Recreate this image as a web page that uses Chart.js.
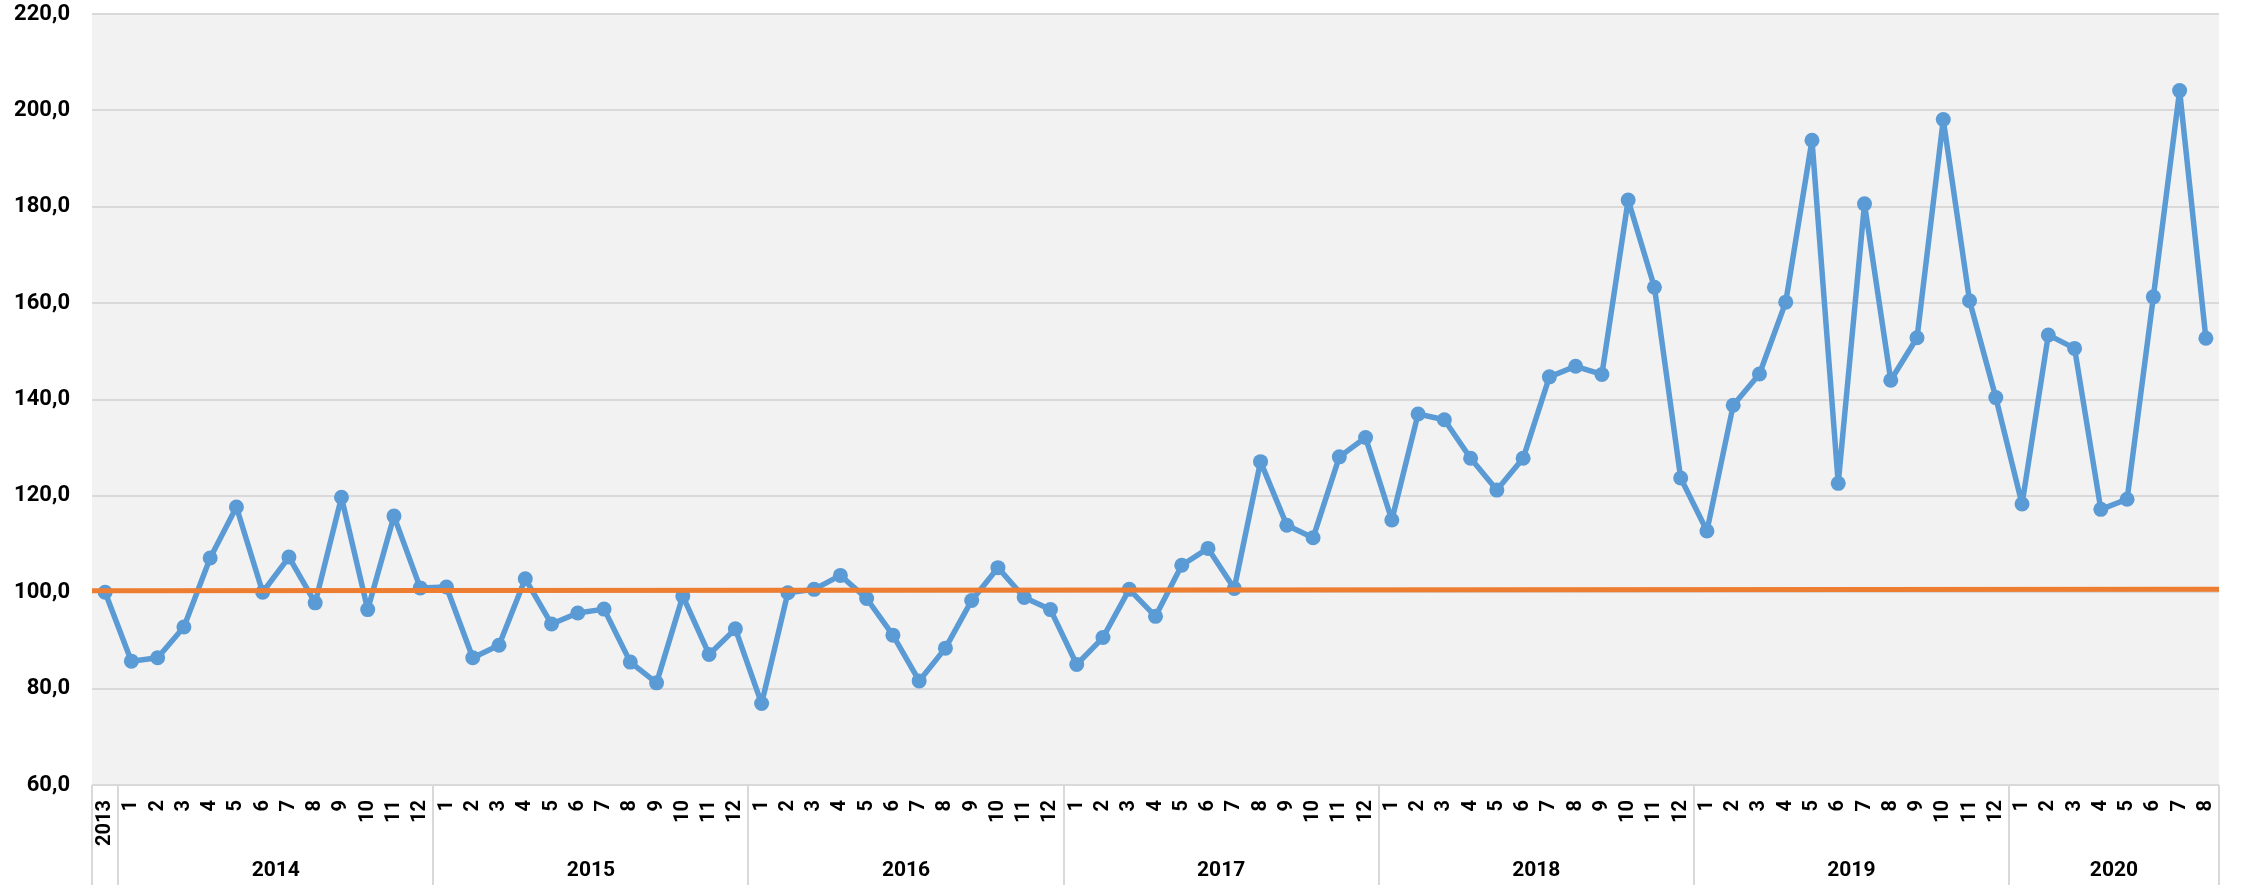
<!DOCTYPE html>
<html>
<head>
<meta charset="utf-8">
<script src="https://cdn.jsdelivr.net/npm/chart.js@4.4.1/dist/chart.umd.min.js"></script>
<style>
    html, body { margin: 0; padding: 0; background: #ffffff; }
    #wrap { width: 2247px; height: 885px; }
</style>
</head>
<body>
<div id="wrap"><canvas id="lineChart" width="2247" height="885"></canvas></div>
<script>
// groups on the x axis: the first one is the single 2013 base point
var groupYears = ['', '2014', '2015', '2016', '2017', '2018', '2019', '2020']
var groupSizes = [1, 12, 12, 12, 12, 12, 12, 8]
var baseLabel = '2013'

// index values, one per category
var values = [
    100.0,
    85.7, 86.4, 92.8, 107.1, 117.7, 100.0, 107.3, 97.8, 119.7, 96.4, 115.8, 100.9,
    101.1, 86.4, 89.0, 102.8, 93.4, 95.7, 96.5, 85.5, 81.2, 99.2, 87.1, 92.4,
    76.9, 99.9, 100.6, 103.5, 98.7, 91.1, 81.6, 88.4, 98.3, 105.1, 98.9, 96.4,
    85.0, 90.6, 100.6, 95.0, 105.6, 109.1, 100.8, 127.1, 113.9, 111.3, 128.1, 132.1,
    115.0, 137.0, 135.8, 127.8, 121.2, 127.8, 144.7, 146.9, 145.2, 181.4, 163.3, 123.7,
    112.7, 138.8, 145.3, 160.2, 193.8, 122.6, 180.6, 144.0, 152.8, 198.1, 160.5, 140.4,
    118.3, 153.4, 150.6, 117.2, 119.3, 161.3, 204.1, 152.7
]

// the orange reference line, read at the left and right edge of the plot
var refLine = [{ x: 0, y: 100.3 }, { x: 1, y: 100.6 }]

var yTicksMin = 60
var yTicksMax = 220
var yTicksStep = 20

var labels = []
groupSizes.forEach((n, g) => {
    if (g === 0) {
        labels.push(baseLabel)
        return
    }
    for (var m = 1; m <= n; m++) labels.push(String(m))
})

var fontFamily = "Roboto, sans-serif"

// plot background
var plotBackground = {
    id: 'plotBackground',
    beforeDraw: (chart) => {
        var a = chart.chartArea
        var ctx = chart.ctx
        ctx.save()
        ctx.fillStyle = '#f2f2f2'
        ctx.fillRect(a.left, a.top, a.right - a.left, a.bottom - a.top)
        ctx.restore()
    }
}

// second level of the category axis: dividers and year names
var yearGroups = {
    id: 'yearGroups',
    afterDraw: (chart) => {
        var xs = chart.scales.x
        var ctx = chart.ctx
        var half = (xs.getPixelForValue(1) - xs.getPixelForValue(0)) / 2
        var bottom = chart.height
        var top = chart.chartArea.bottom
        ctx.save()
        ctx.strokeStyle = '#d9d9d9'
        ctx.lineWidth = 2
        var start = 0
        var edges = [xs.getPixelForValue(0) - half]
        groupSizes.forEach((n, g) => {
            var end = start + n - 1
            var left = xs.getPixelForValue(start) - half
            var right = xs.getPixelForValue(end) + half
            edges.push(right)
            if (groupYears[g] !== '') {
                ctx.fillStyle = '#000000'
                ctx.font = 'bold 21px ' + fontFamily
                ctx.textAlign = 'center'
                ctx.textBaseline = 'middle'
                ctx.fillText(groupYears[g], (left + right) / 2, 871)
            }
            start = end + 1
        })
        edges.forEach((x) => {
            ctx.beginPath()
            ctx.moveTo(Math.round(x), top)
            ctx.lineTo(Math.round(x), bottom)
            ctx.stroke()
        })
        ctx.restore()
    }
}

var ctxL = document.getElementById('lineChart').getContext('2d')
var lineChart = new Chart(ctxL, {
    type: 'line',
    data: {
        labels: labels,
        datasets: [{
            data: refLine,
            xAxisID: 'x2',
            borderColor: '#ed7d31',
            borderWidth: 5,
            pointRadius: 0,
            order: 0
        }, {
            data: values,
            xAxisID: 'x',
            borderColor: '#5b9bd5',
            backgroundColor: '#5b9bd5',
            borderWidth: 5.5,
            borderJoinStyle: 'round',
            pointRadius: 7.5,
            pointBorderWidth: 0,
            pointBackgroundColor: '#5b9bd5',
            tension: 0,
            order: 1
        }]
    },
    options: {
        responsive: false,
        animation: false,
        layout: { padding: { top: 14, right: 28, bottom: 0, left: 0 } },
        plugins: {
            legend: { display: false },
            tooltip: { enabled: false }
        },
        scales: {
            x: {
                type: 'category',
                offset: true,
                grid: { display: false, drawTicks: false },
                border: { display: false },
                ticks: {
                    autoSkip: false,
                    maxRotation: 90,
                    minRotation: 90,
                    padding: 15,
                    color: '#000000',
                    font: { family: fontFamily, size: 20, weight: 'bold' }
                },
                afterFit: (scale) => { scale.height = 100 }
            },
            x2: {
                type: 'linear',
                display: false,
                min: 0,
                max: 1
            },
            y: {
                min: yTicksMin,
                max: yTicksMax,
                grid: { color: '#d9d9d9', lineWidth: 2, drawTicks: false },
                border: { display: false },
                ticks: {
                    stepSize: yTicksStep,
                    padding: 22,
                    color: '#000000',
                    font: { family: fontFamily, size: 22, weight: 'bold' },
                    callback: (v) => v.toFixed(1).replace('.', ',')
                },
                afterFit: (scale) => {
                    scale.width = 92
                    scale.paddingTop = 0
                    scale.paddingBottom = 0
                }
            }
        }
    },
    plugins: [plotBackground, yearGroups]
})
</script>
</body>
</html>
